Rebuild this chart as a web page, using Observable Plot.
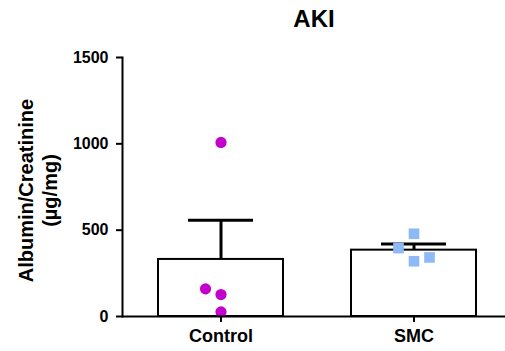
<!DOCTYPE html>
<html>
<head>
<meta charset="utf-8">
<script src="https://cdn.jsdelivr.net/npm/d3@7"></script>
<script src="https://cdn.jsdelivr.net/npm/@observablehq/plot@0.6"></script>
<style>
  html, body { margin: 0; padding: 0; background: white; }
</style>
</head>
<body>
<div id="chart"></div>
<script>
// ---- data ----
const categories = ["Control", "SMC"];
const controlValues = [1008, 27, 127, 160];
const smcValues = [479, 320, 396, 342];
const yTicks = [0, 500, 1000, 1500];
const title = "AKI";
const yLabel1 = "Albumin/Creatinine";
const yLabel2 = "(µg/mg)";

// ---- layout ----
const W = 505, H = 351, mTop = 57, mBottom = 35, mLeft = 122, mRight = 0;
const yMax = 1500;

const groups = [controlValues, smcValues];
const summary = categories.map((g, i) => {
  const v = groups[i];
  const mean = d3.mean(v);
  const sem = d3.deviation(v) / Math.sqrt(v.length);
  return {group: g, mean, top: mean + sem};
});

// scatter placement: avoid overlapping points (GraphPad-like)
const yPx = d3.scaleLinear([0, yMax], [H - mBottom, mTop]);
const step = 15.5, minDist = 15;
const points = [];
categories.forEach((g, i) => {
  const placed = [];
  for (const v of groups[i]) {
    const py = yPx(v);
    for (const slot of [0, -1, 1, -2, 2]) {
      const px = slot * step;
      if (placed.every(p => Math.hypot(p.px - px, p.py - py) >= minDist)) {
        placed.push({px, py});
        points.push({group: g, value: v, slot});
        break;
      }
    }
  }
});

const dotMarks = [];
for (const slot of [-2, -1, 0, 1, 2]) {
  const c = points.filter(d => d.group === "Control" && d.slot === slot);
  const s = points.filter(d => d.group === "SMC" && d.slot === slot);
  if (c.length) dotMarks.push(Plot.dot(c, {x: "group", y: "value", dx: slot * step, r: 5.6, fill: "#c300cc", stroke: "none", symbol: "circle"}));
  if (s.length) dotMarks.push(Plot.dot(s, {x: "group", y: "value", dx: slot * step, r: 6, fill: "#8dbaf6", stroke: "none", symbol: "square"}));
}

const chart = Plot.plot({
  width: W, height: H,
  marginTop: mTop, marginBottom: mBottom, marginLeft: mLeft, marginRight: mRight,
  style: {fontFamily: "'Liberation Sans', Arial, Helvetica, sans-serif", fontWeight: "bold", background: "white", color: "black"},
  x: {domain: categories, range: [157, 477], paddingInner: 0.35, paddingOuter: 0, axis: null},
  y: {domain: [0, yMax], axis: null},
  marks: [
    Plot.barY(summary, {x: "group", y: "mean", fill: "white", stroke: "black", strokeWidth: 2}),
    Plot.ruleX(summary, {x: "group", y1: "mean", y2: "top", stroke: "black", strokeWidth: 3}),
    Plot.tickY(summary, {x: "group", y: "top", stroke: "black", strokeWidth: 3, insetLeft: 30, insetRight: 30}),
    ...dotMarks,
    Plot.frame({anchor: "left", stroke: "black", strokeWidth: 2}),
    Plot.ruleY([0], {stroke: "black", strokeWidth: 2}),
    Plot.axisY({ticks: yTicks, tickSize: 6, tickPadding: 8, tickFormat: d => String(d), fontSize: 16, strokeWidth: 2, label: null}),
    Plot.axisX({tickSize: 6, tickPadding: 7, fontSize: 18, strokeWidth: 2, label: null}),
    Plot.text([title], {frameAnchor: "top", dy: -38, fontSize: 24, lineAnchor: "middle", textAnchor: "middle", fill: "black"}),
    Plot.text([yLabel1], {frameAnchor: "left", rotate: -90, dx: -96, dy: 3.5, fontSize: 20, lineAnchor: "middle", textAnchor: "middle", fill: "black"}),
    Plot.text([yLabel2], {frameAnchor: "left", rotate: -90, dx: -72, dy: 3.5, fontSize: 20, lineAnchor: "middle", textAnchor: "middle", fill: "black"})
  ]
});
document.getElementById("chart").appendChild(chart);
</script>
</body>
</html>
